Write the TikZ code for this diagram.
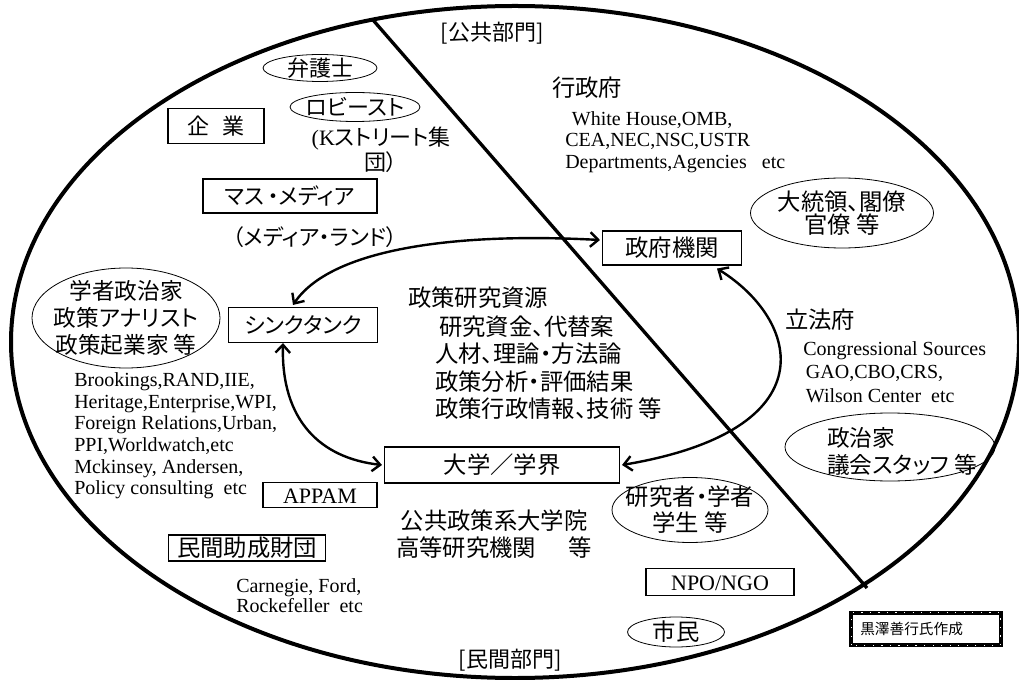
\documentclass[tikz,border=0pt]{standalone}
\usepackage{fontspec}
\setmainfont{Liberation Serif}
\newfontfamily\jp[RawFeature=+palt]{Noto Sans CJK JP}
\usetikzlibrary{arrows.meta,shapes.geometric,calc}
\tikzset{
  jpt/.style={font=\jp\fontsize{16.5}{20}\selectfont, inner sep=0, align=center},
  jpm/.style={font=\jp\fontsize{17}{20.25}\selectfont, inner sep=0, align=center},
  jpl/.style={font=\jp\fontsize{17.5}{20.5}\selectfont, inner sep=0, align=center},
  ent/.style={font=\fontsize{15}{16.2}\selectfont, inner sep=0, align=left},
  boxn/.style={draw, line width=0.8pt, inner sep=0},
  oval/.style={ellipse, draw, line width=0.6pt, inner sep=0},
  conn/.style={line width=1.8pt, {Straight Barb[length=6pt,width=11pt]}-{Straight Barb[length=6pt,width=11pt]}},
}
\begin{document}
\begin{tikzpicture}[x=0.75pt,y=-0.75pt]
\useasboundingbox (0,0) rectangle (1019,680);
\fill[white] (0,0) rectangle (1019,680);

% outer ellipse and divider
\draw[line width=3pt] (515,342) ellipse [x radius=378pt, y radius=252pt];
\coordinate (dtop) at (373,20);
\coordinate (dbot) at (867,588);

% sector labels
\node[jpt] (pubsec) at (492,33) {[公共部門]};
\node[jpt] (privsec) at (510,660) {[民間部門]};

% private side
\node[oval, minimum width=85.5pt, minimum height=20.25pt] (lawyer) at (320,68) {};
\node[jpt] (lawyer-t) at (lawyer) {弁護士};
\node[oval, minimum width=97.5pt, minimum height=21.75pt] (lobby) at (355,107) {};
\node[jpt] (lobby-t) at (lobby) {ロビースト};
\node[jpt, font=\jp\fontsize{16.5}{18.75}\selectfont] (kst) at (381,150) {{\rmfamily(K}ストリート集\\団）};
\node[boxn, minimum width=72pt, minimum height=26.25pt] (corp) at (216,126) {};
\node[jpt] (corp-t) at (corp) {企\hspace{0.6em}業};
\node[boxn, minimum width=130.5pt, minimum height=25.5pt] (media) at (290,196) {};
\node[jpt] (media-t) at (media) {マス\,・メディア};
\node[jpt] (mland) at (315,237) {（メディア・ランド）};

\node[oval, minimum width=141pt, minimum height=75pt] (scholar) at (126,318) {};
\node[jpm] (scholar-t) at (scholar) {学者政治家\\政策アナリスト\\政策起業家 等};
\node[boxn, minimum width=111.75pt, minimum height=26.25pt] (thinktank) at (303,325) {};
\node[jpt] (thinktank-t) at (thinktank) {シンクタンク};

\node[ent, anchor=west] (brook) at (74,436) {Brookings,RAND,IIE,\\Heritage,Enterprise,WPI,\\Foreign Relations,Urban,\\PPI,Worldwatch,etc\\Mckinsey, Andersen,\\Policy consulting\ \ etc};
\node[boxn, minimum width=85.5pt, minimum height=18.75pt] (appam) at (320,495) {};
\node[inner sep=0, font=\fontsize{16.5}{18}\selectfont] (appam-t) at ($(appam)+(0,1)$) {APPAM};
\node[boxn, minimum width=117.75pt, minimum height=19.5pt] (found) at (247,548) {};
\node[jpl] (found-t) at (found) {民間助成財団};
\node[ent, font=\fontsize{15}{12.75}\selectfont, anchor=west] (carn) at (236,596) {Carnegie, Ford,\\Rockefeller\ \ etc};

% centre
\node[jpl, anchor=west] (res1) at (408,298) {政策研究資源};
\node[jpl, anchor=west] (res2) at (439,327) {研究資金、代替案};
\node[jpl, anchor=west] (res3) at (435,354) {人材、理論・方法論};
\node[jpl, anchor=west] (res4) at (435,382) {政策分析・評価結果};
\node[jpl, anchor=west] (res5) at (435,409) {政策行政情報、技術 等};

\node[boxn, minimum width=176.25pt, minimum height=27pt] (univ) at (502,465) {};
\node[jpl] (univ-t) at (univ) {大学／学界};
\node[jpl, font=\jp\fontsize{17.5}{20.25}\selectfont] (grad) at (494,534) {公共政策系大学院\\高等研究機関\hspace{1.4em}等};

% public side
\node[jpl] (exec) at (587,88) {行政府};
\node[ent, font=\fontsize{15}{16.1}\selectfont, anchor=west] (wh) at (565,142) {\hspace{5pt}White House,OMB,\\CEA,NEC,NSC,USTR\\Departments,Agencies\ \ \ etc};
\node[boxn, minimum width=104.25pt, minimum height=25.5pt] (govt) at (672,248) {};
\node[jpl] (govt-t) at (govt) {政府機関};
\node[oval, minimum width=137.25pt, minimum height=52.5pt] (pres) at (842,213) {};
\node[jpl, font=\jp\fontsize{17.5}{17.5}\selectfont] (pres-t) at (pres) {大統領、閣僚\\官僚 等};

\node[jpl] (legis) at (820,320) {立法府};
\node[ent, font=\fontsize{15}{17.5}\selectfont, anchor=west] (cong) at (803,372) {Congressional Sources\\\hspace{2pt}GAO,CBO,CRS,\\\hspace{2pt}Wilson Center\ \ etc};
\node[oval, minimum width=157.5pt, minimum height=51pt] (polit) at (890,447) {};
\node[jpm, align=left, anchor=west] (polit-t) at (827,451) {政治家\\議会スタッフ 等};

\node[oval, minimum width=117pt, minimum height=48.75pt] (resr) at (690,510) {};
\node[jpl, font=\jp\fontsize{17.5}{19.5}\selectfont] (resr-t) at (resr) {研究者・学者\\学生 等};
\node[boxn, minimum width=111pt, minimum height=20.25pt] (npo) at (720,582) {};
\node[inner sep=0, font=\fontsize{16.5}{18}\selectfont] (npo-t) at ($(npo)+(0,1)$) {NPO/NGO};
\node[oval, minimum width=72.75pt, minimum height=22.5pt] (citizen) at (676,632) {};
\node[jpl] (citizen-t) at (citizen) {市民};

% credit box
\node[draw, line width=3.2pt, outer sep=0, minimum width=112pt, minimum height=24.5pt, inner sep=0] (credit) at (926,629) {};
\draw[white, line width=0.9pt, dash pattern=on 0.9pt off 5.5pt] (credit.south west) rectangle (credit.north east);
\node[font=\jp\fontsize{11}{12}\selectfont, inner sep=0, anchor=west] (credit-t) at (860,629) {黒澤善行氏作成};

% divider line
\draw[line width=2.5pt] (dtop) -- (dbot);

% connectors
\draw[conn] ($(thinktank.north)+(-10,-2)$) .. controls (330,250) and (450,232) .. ($(govt.west)+(-2,-8)$);
\draw[conn] ($(thinktank.south)+(-20,0)$) .. controls (281,420) and (320,458) .. ($(univ.west)+(-2,0)$);
\draw[conn] ($(govt.south)+(45,3)$) .. controls (800,320) and (830,430) .. ($(univ.east)+(2,0)$);
\end{tikzpicture}
\end{document}
